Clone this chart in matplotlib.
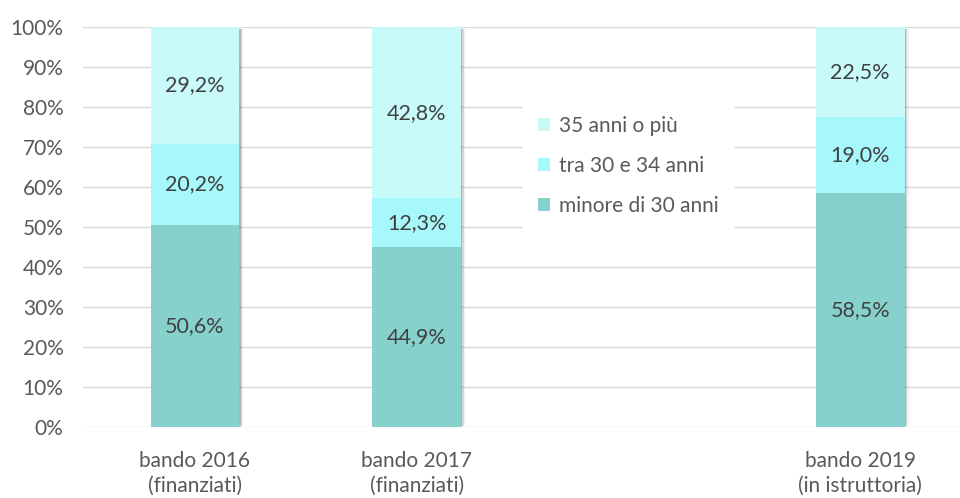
import numpy as np
import matplotlib
matplotlib.use("Agg")
import matplotlib.pyplot as plt

plt.rcParams['font.family'] = ['Lato', 'DejaVu Sans']

# data (percent), empty slot kept for the legend
categories = ["bando 2016\n(finanziati)", "bando 2017\n(finanziati)", "", "bando 2019\n(in istruttoria)"]
under30 = [50.6, 44.9, 0, 58.5]
from30to34 = [20.2, 12.3, 0, 19.0]
over35 = [29.2, 42.8, 0, 22.5]
series_names = ["minore di 30 anni", "tra 30 e 34 anni", "35 anni o più"]
colors = ["#86d1cc", "#a6f8fb", "#c8fafa"]

fig = plt.figure(figsize=(9.6, 4.98), dpi=100)
ax = fig.add_axes([83/960, 1 - 427/498, (960-83)/960, 400/498])

x = np.arange(len(categories))
w = 0.40

# soft shadow on the right of each full bar
totals = np.array(under30) + np.array(from30to34) + np.array(over35)
has = totals > 0
for k, a in enumerate([0.28, 0.16, 0.08]):
    ax.bar(x[has] + 0.006 * (k + 1), totals[has] - 0.4 * (k + 1), w,
           bottom=0.4 * (k + 1) - 0.6, color='#555555', alpha=a, zorder=2, linewidth=0)

bottom = np.zeros(len(categories))
handles = []
for vals, col, name in zip([under30, from30to34, over35], colors, series_names):
    vals = np.array(vals, dtype=float)
    bars = ax.bar(x, vals, w, bottom=bottom, color=col, label=name, zorder=3, linewidth=0)
    for xi, v, b0 in zip(x, vals, bottom):
        if v > 0:
            ax.text(xi, b0 + v / 2, f"{v:.1f}%".replace('.', ','), ha='center', va='center',
                    fontsize=15.5, color='#404040', zorder=5)
    handles.append(bars)
    bottom += vals

ax.set_xlim(-0.505, 3.45)
ax.set_ylim(0, 100)
ax.set_yticks(np.arange(0, 101, 10))
ax.set_yticklabels([f"{t}%" for t in range(0, 101, 10)])
ax.set_xticks(x)
ax.set_xticklabels(categories, linespacing=1.3)
ax.tick_params(axis='both', length=0, labelsize=15, labelcolor='#595959')
ax.tick_params(axis='y', pad=14)
ax.tick_params(axis='x', pad=17)
ax.yaxis.grid(True, color='#d9d9d9', linewidth=1, zorder=0)
ax.set_axisbelow(True)
for s in ax.spines.values():
    s.set_visible(False)

leg = ax.legend(handles[::-1], series_names[::-1], loc='center',
                bbox_to_anchor=((628 - 83) / 877, (427 - 166) / 400),
                frameon=True, fontsize=15, handlelength=0.6, handleheight=0.6,
                handletextpad=0.4, labelspacing=0.95, borderpad=0.7)
leg.get_frame().set_facecolor('white')
leg.get_frame().set_edgecolor('white')
leg.get_frame().set_alpha(1)
for t in leg.get_texts():
    t.set_color('#595959')

fig.savefig("out.png", dpi=100)
